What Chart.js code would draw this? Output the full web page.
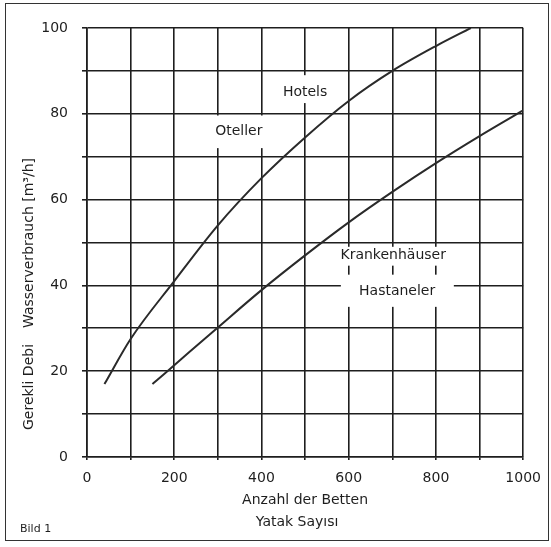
<!DOCTYPE html>
<html>
<head>
<meta charset="utf-8">
<script src="https://cdn.jsdelivr.net/npm/chart.js@4.4.1/dist/chart.umd.min.js"></script>
<style>
    html, body { margin: 0; padding: 0; background: #fff; }
    #wrap { position: relative; width: 551px; height: 547px; }
    #frame { position: absolute; left: 5px; top: 3px; width: 542px; height: 536px; border: 1px solid #333; pointer-events: none; }
    canvas { position: absolute; left: 0; top: 0; }
</style>
</head>
<body>
<div id="wrap">
    <canvas id="chart" width="551" height="547"></canvas>
    <div id="frame"></div>
</div>
<script>
// === DATA ===
const hotelsX = [40, 100, 200, 300, 400, 500, 600, 700, 800, 880];
const hotelsY = [17, 27.5, 41, 54, 65, 74.5, 83, 90, 95.8, 100];

const hospitalsX = [150, 200, 300, 400, 500, 600, 700, 800, 900, 1000];
const hospitalsY = [17, 21.4, 30.2, 38.9, 47, 54.7, 61.8, 68.5, 74.8, 80.8];

const xTickLabels = [0, 200, 400, 600, 800, 1000];
const yTickLabels = [0, 20, 40, 60, 80, 100];

// curve labels (text, x, y in data units) and the white boxes behind them
const curveLabels = [
    { text: 'Hotels', x: 500, y: 85 },
    { text: 'Oteller', x: 348, y: 76 },
    { text: 'Krankenhäuser', x: 702, y: 47 },
    { text: 'Hastaneler', x: 711, y: 38.5 }
];
const labelMasks = [
    { x0: 435, x1: 565, y0: 82.5, y1: 89 },
    { x0: 268, x1: 427, y0: 72, y1: 79.6 },
    { x0: 552, x1: 852, y0: 44.6, y1: 49 },
    { x0: 582, x1: 841, y0: 35, y1: 42.5 }
];

const FONT = "'DejaVu Sans', 'Liberation Sans', sans-serif";
const INK = '#1e1e1e';

const toPoints = (xs, ys) => xs.map((x, i) => ({ x: x, y: ys[i] }));

const textPlugin = {
    id: 'textPlugin',
    beforeDatasetsDraw(chart) {
        const { ctx, scales: { x, y } } = chart;
        ctx.save();
        ctx.fillStyle = '#fff';
        labelMasks.forEach(m => {
            const l = x.getPixelForValue(m.x0), r = x.getPixelForValue(m.x1);
            const t = y.getPixelForValue(m.y1), b = y.getPixelForValue(m.y0);
            ctx.fillRect(l, t, r - l, b - t);
        });
        ctx.restore();
    },
    afterDatasetsDraw(chart) {
        const { ctx, scales: { x, y }, chartArea } = chart;
        ctx.save();
        ctx.fillStyle = INK;
        ctx.textAlign = 'center';
        ctx.textBaseline = 'middle';
        ctx.font = `14px ${FONT}`;
        curveLabels.forEach(l => {
            ctx.fillText(l.text, x.getPixelForValue(l.x), y.getPixelForValue(l.y));
        });

        // axis titles
        const midX = (chartArea.left + chartArea.right) / 2;
        ctx.fillText('Anzahl der Betten', midX, 500);
        ctx.fillText('Yatak Sayısı', midX - 8, 522);

        ctx.font = `11px ${FONT}`;
        ctx.textAlign = 'left';
        ctx.fillText('Bild 1', 20, 529);

        ctx.font = `14px ${FONT}`;
        ctx.textAlign = 'center';
        ctx.translate(29, 0);
        ctx.rotate(-Math.PI / 2);
        ctx.fillText('Wasserverbrauch [m³/h]', -243, 0);
        ctx.fillText('Gerekli Debi', -387, 0);
        ctx.restore();
    }
};

const ctx = document.getElementById('chart').getContext('2d');

new Chart(ctx, {
    type: 'scatter',
    data: {
        datasets: [
            {
                label: 'Hotels',
                data: toPoints(hotelsX, hotelsY),
                showLine: true,
                borderColor: '#2a2a2a',
                borderWidth: 2,
                pointRadius: 0,
                cubicInterpolationMode: 'monotone'
            },
            {
                label: 'Krankenhäuser',
                data: toPoints(hospitalsX, hospitalsY),
                showLine: true,
                borderColor: '#2a2a2a',
                borderWidth: 2,
                pointRadius: 0,
                cubicInterpolationMode: 'monotone'
            }
        ]
    },
    options: {
        responsive: false,
        animation: false,
        layout: { padding: { top: 28, right: 24, left: 0, bottom: 0 } },
        plugins: {
            legend: { display: false },
            tooltip: { enabled: false }
        },
        scales: {
            x: {
                type: 'linear',
                min: 0,
                max: 1000,
                afterFit: s => { s.height = 90; },
                border: { color: INK, width: 1.6 },
                grid: { color: INK, lineWidth: 1.6, tickLength: 3 },
                ticks: {
                    stepSize: 100,
                    padding: 10,
                    color: INK,
                    font: { size: 14, family: FONT },
                    callback: v => xTickLabels.includes(v) ? String(v) : ''
                }
            },
            y: {
                type: 'linear',
                min: 0,
                max: 100,
                afterFit: s => { s.width = 87; },
                border: { color: INK, width: 1.6 },
                grid: { color: INK, lineWidth: 1.6, tickLength: 5 },
                ticks: {
                    stepSize: 10,
                    padding: 14,
                    color: INK,
                    font: { size: 14, family: FONT },
                    callback: v => yTickLabels.includes(v) ? String(v) : ''
                }
            }
        }
    },
    plugins: [textPlugin]
});
</script>
</body>
</html>
